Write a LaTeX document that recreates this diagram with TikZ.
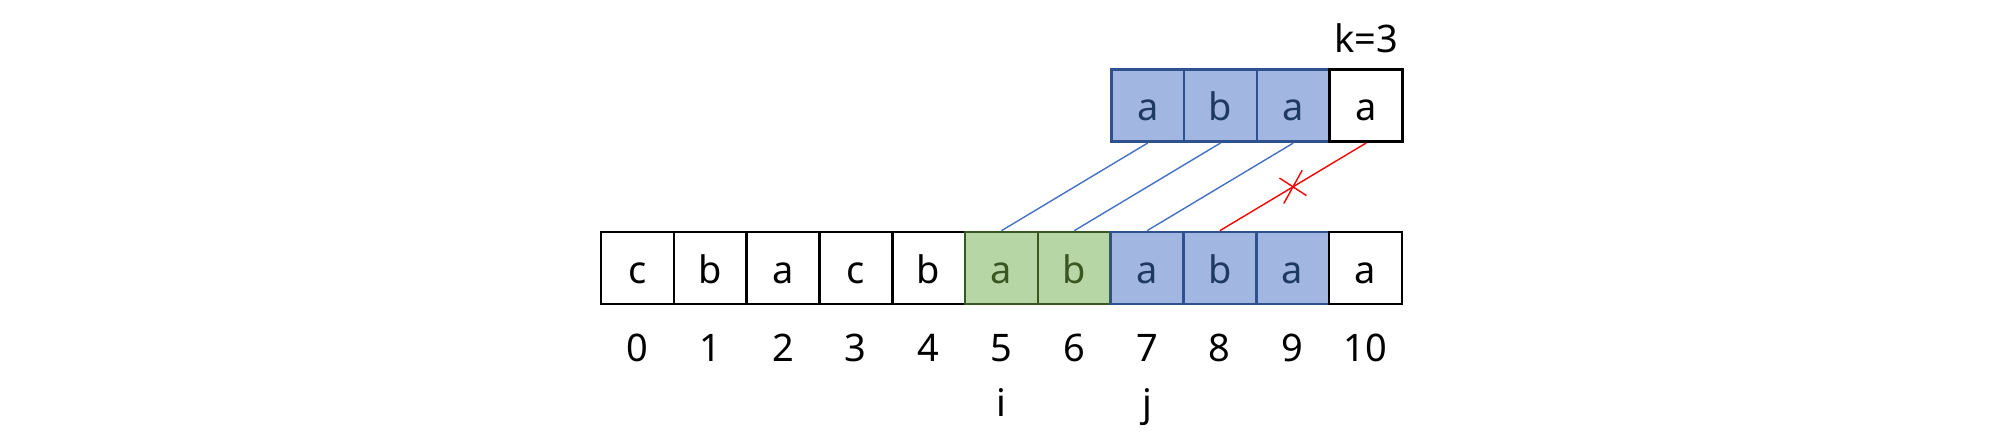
\documentclass[tikz,border=0pt]{standalone}
\usepackage{fontspec}
\setmainfont{Noto Sans}
\usetikzlibrary{matrix,positioning,calc}

\definecolor{hitfill}{RGB}{161,183,225}
\definecolor{hitline}{RGB}{47,82,143}
\definecolor{hittext}{RGB}{32,56,100}
\definecolor{prefill}{RGB}{183,214,165}
\definecolor{preline}{RGB}{56,87,35}
\definecolor{linkblue}{RGB}{68,114,196}

\tikzset{
  cell/.style={draw, line width=0.75pt, minimum width=7.28mm, minimum height=7.2mm, inner sep=0pt, text height=3mm, text depth=0pt, anchor=center},
  hit/.style={fill=hitfill, draw=hitline, text=hittext},
  pre/.style={fill=prefill, draw=preline, text=preline},
  link/.style={draw=linkblue, line width=0.4pt},
}

\begin{document}
\begin{tikzpicture}[font=\fontsize{10.8}{13}\selectfont]
\useasboundingbox (0,0) rectangle (20,4.44);

\matrix (m)[matrix of nodes, anchor=north west, inner sep=0pt, column sep=-0.75pt, row sep=0.5mm, nodes={cell},
  row 2/.style={nodes={draw=none}}, row 3/.style={nodes={draw=none}}] at (5.99,2.14)
{
c & b & a & c & b & |[pre]| a & |[pre]| b & |[hit]| a & |[hit]| b & |[hit]| a & a \\
0 & 1 & 2 & 3 & 4 & 5 & 6 & 7 & 8 & 9 & 10 \\[-2.2mm]
  &   &   &   &   & i &   & j &   &   &    \\
};

\matrix (t)[matrix of nodes, above right=8.7mm and 0mm of m-1-8.north west, inner sep=0pt, column sep=-0.75pt, nodes={cell}]
{
|[hit]| a & |[hit]| b & |[hit]| a & a \\
};

\node[above left=1.5mm and 0.5mm of t-1-4.north east, inner sep=0pt] (k) {k=3};

\foreach \a/\b in {1/6,2/7,3/8}
  \draw[link] (t-1-\a.south) -- (m-1-\b.north);

\draw[red, line width=0.4pt] (t-1-4.south) -- (m-1-9.north);
\coordinate (x) at ($(t-1-4.south)!0.5!(m-1-9.north)$);
\draw[red, line width=0.4pt] ($(x)+(61:0.19)$) -- ($(x)+(241:0.19)$);
\draw[red, line width=0.4pt] ($(x)+(-33:0.16)$) -- ($(x)+(147:0.16)$);
\end{tikzpicture}
\end{document}
